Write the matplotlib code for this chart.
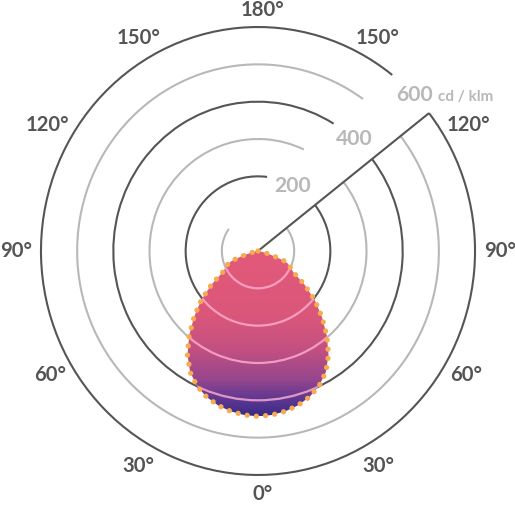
import numpy as np
import matplotlib
matplotlib.use("Agg")
import matplotlib.pyplot as plt
from matplotlib.patches import Arc, Polygon
from matplotlib.colors import LinearSegmentedColormap
import matplotlib.transforms as mtransforms

# ---------------- data ----------------
gamma_deg = [0, 5, 10, 15, 20, 25, 30, 35, 40, 45, 50, 55, 60, 65, 68, 70, 72, 75, 80, 90]
intensity = [443, 441, 436, 428, 416, 399, 375, 340, 296, 250, 205, 157, 112, 97, 88, 76, 54, 29, 10, 0]

ring_values = [100, 200, 300, 400, 500, 600]
radial_label_values = [200, 400, 600]
radial_label_texts = ["200", "400", "600"]
unit_text = "cd / klm"

angle_ticks = [0, 30, 60, 90, 120, 150, 180]
angle_tick_labels = ["0°", "30°", "60°", "90°", "120°", "150°", "180°"]

# ---------------- layout / style ----------------
DARK = "#555555"
LIGHT = "#b8b8b8"
FONT = "Lato"
LINE_ANGLE = 38.0                       # radial divider (math angle, deg)
ring_end_angle = {100: 143.6, 200: 82.8, 300: 65.0, 400: 58.5, 500: 54.5, 600: 51.8}
radial_label_angle = {200: 61.0, 400: 48.5, 600: 44.0}

fig = plt.figure(figsize=(5.15, 5.08), dpi=100)
ax = fig.add_axes([0, 0, 1, 1])
ax.set_xlim(-713.3, 710.5)
ax.set_ylim(-688.5, 672.4)
ax.axis("off")

# rings (open arcs leaving a gap for the labels)
for r in ring_values:
    col = DARK if r % 200 == 0 else LIGHT
    ax.add_patch(Arc((0, 0), 2 * r, 2 * r, theta1=ring_end_angle[r], theta2=360 + LINE_ANGLE,
                     color=col, lw=1.5, zorder=1))

# radial divider line
rmax = max(ring_values)
th = np.deg2rad(LINE_ANGLE)
ax.plot([0, rmax * np.cos(th)], [0, rmax * np.sin(th)], color=DARK, lw=1.5, zorder=1,
        solid_capstyle="butt")

# ---------------- intensity curve (egg) ----------------
g = np.deg2rad(np.array(gamma_deg, dtype=float))
I = np.array(intensity, dtype=float)
xr = I * np.sin(g)
yr = -I * np.cos(g)
xs = np.concatenate([xr[::-1], -xr[1:]])
ys = np.concatenate([yr[::-1], yr[1:]])

egg = Polygon(np.column_stack([xs, ys]), closed=True, facecolor="none", edgecolor="none", zorder=2)
ax.add_patch(egg)

grad_cmap = LinearSegmentedColormap.from_list(
    "egg", [(0.0, "#e3597a"), (0.40, "#da577b"), (0.60, "#c35081"),
            (0.78, "#96468d"), (0.90, "#5e3792"), (1.0, "#382c86")])
grad = np.linspace(0, 1, 256).reshape(-1, 1)
im = ax.imshow(grad, cmap=grad_cmap, aspect="auto",
               extent=[xs.min(), xs.max(), ys.min(), ys.max()], origin="upper",
               zorder=2, interpolation="bilinear")
im.set_clip_path(egg)
ax.set_xlim(-713.3, 710.5)
ax.set_ylim(-688.5, 672.4)

# grid rings visible through the curve
for r in ring_values:
    a = Arc((0, 0), 2 * r, 2 * r, theta1=0, theta2=360, color="#ffb0d2", lw=1.6, alpha=0.8, zorder=3)
    ax.add_patch(a)
    a.set_clip_path(egg)

# dotted orange outline
ax.plot(np.append(xs, xs[0]), np.append(ys, ys[0]), color="#f7ab4e", lw=3.8,
        linestyle=(0, (0.001, 1.75)), dash_capstyle="round", zorder=4)

# ---------------- labels ----------------
label_r = {0: 651, 30: 664, 60: 665, 90: 669, 120: 673, 150: 659, 180: 646}
shift = mtransforms.offset_copy(ax.transData, fig=fig, x=4.5, y=0, units="dots")
for a, lab in zip(angle_ticks, angle_tick_labels):
    ga = np.deg2rad(a)
    r = label_r[a]
    for side in ([1] if a in (0, 180) else [1, -1]):
        x = side * r * np.sin(ga)
        y = -r * np.cos(ga)
        tr = shift if a in (0, 180) else ax.transData
        ax.text(x, y, lab, transform=tr, ha="center", va="center", fontsize=14.6,
                color=DARK, fontfamily=FONT, fontweight="bold", zorder=5)

for v, t in zip(radial_label_values, radial_label_texts):
    ta = np.deg2rad(radial_label_angle[v])
    ax.text(v * np.cos(ta), v * np.sin(ta), t, ha="center", va="center", fontsize=15.2,
            color=LIGHT, fontfamily=FONT, fontweight="bold", zorder=5)

ax.text(497.6, 401.8, unit_text, ha="left", va="baseline", fontsize=11,
        color=LIGHT, fontfamily=FONT, fontweight="bold", zorder=5)

fig.savefig("out.png", dpi=100)
